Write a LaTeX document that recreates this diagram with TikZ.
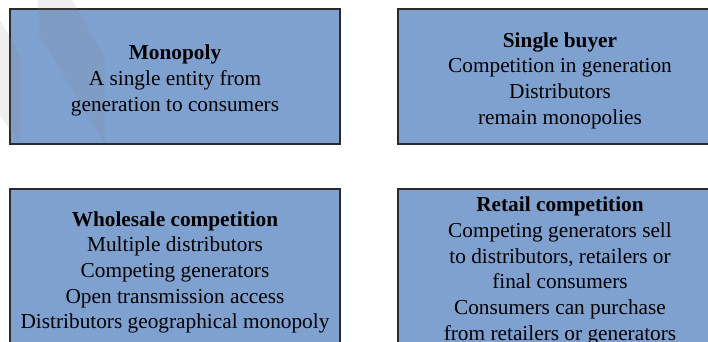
\documentclass[tikz,border=0pt]{standalone}
\usepackage{fontspec}
\setmainfont{Liberation Serif}
\definecolor{boxfill}{HTML}{7FA1D0}
\definecolor{boxline}{HTML}{2A2A2A}
\begin{document}
\begin{tikzpicture}[x=1pt,y=-1pt,
  box/.style={draw=boxline, fill=boxfill, line width=1.3pt, inner sep=0pt},
  txt/.style={align=center, inner sep=0pt, font=\fontsize{21.3}{25.7}\selectfont, text=black},
  wmark/.style={fill=gray, opacity=0.13, draw=none}]
\useasboundingbox (0,0) rectangle (708,341);
\clip (0,0) rectangle (708,341);
\node[box, minimum width=330pt, minimum height=135pt] (mono) at (175,76.5) {};
\node[box, minimum width=324pt, minimum height=135pt] (single) at (560,76.5) {};
\node[box, minimum width=330pt, minimum height=161pt] (whole) at (175,269.5) {};
\node[box, minimum width=324pt, minimum height=157pt] (retail) at (560,267.5) {};
\fill[wmark] (0,20) -- (20,55) -- (20,144) -- (0,115) -- cycle;
\fill[wmark] (38,0) -- (72,0) -- (105,58) -- (105,144) -- (38,33) -- cycle;
\node[txt] (monot) at ([yshift=-4pt]mono.center)
  {\textbf{Monopoly}\\A single entity from\\generation to consumers};
\node[txt] (singlet) at ([yshift=-4pt]single.center)
  {\textbf{Single buyer}\\Competition in generation\\Distributors\\remain monopolies};
\node[txt] (wholet) at ([yshift=-2.8pt]whole.center)
  {\textbf{Wholesale competition}\\Multiple distributors\\Competing generators\\Open transmission access\\Distributors geographical monopoly};
\node[txt] (retailt) at ([yshift=-3.3pt]retail.center)
  {\textbf{Retail competition}\\Competing generators sell\\to distributors, retailers or\\final consumers\\Consumers can purchase\\from retailers or generators};
\end{tikzpicture}
\end{document}
